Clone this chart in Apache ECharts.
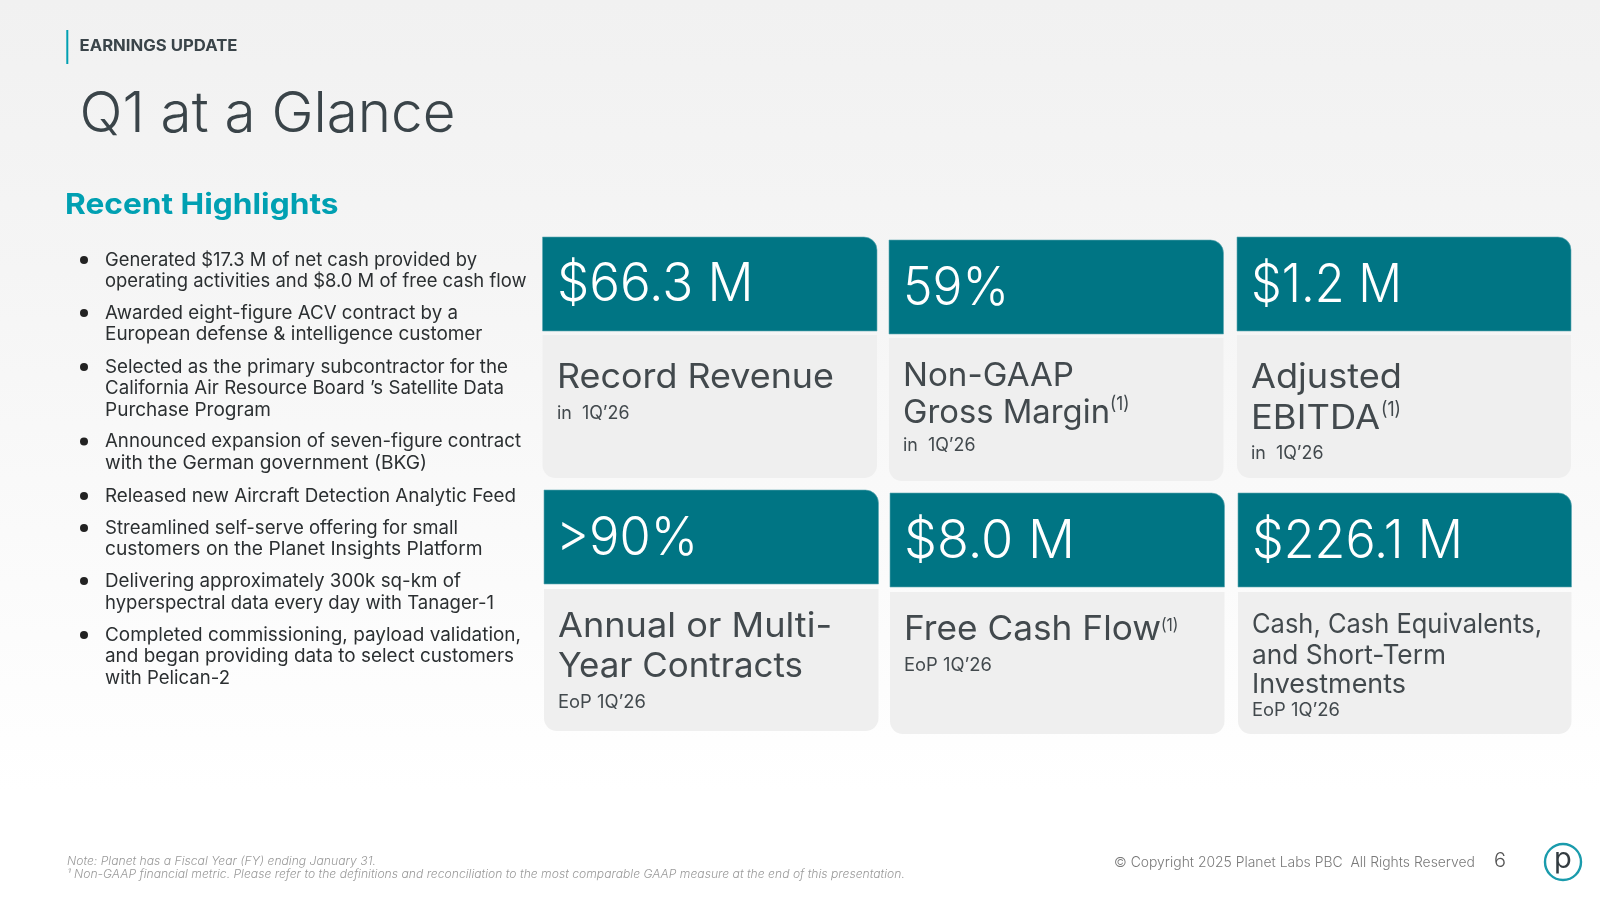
<!DOCTYPE html>
<html>
<head>
<meta charset="utf-8">
<title>Q1 at a Glance</title>
<style>
  html, body { margin: 0; padding: 0; background: #fff; }
  #main { width: 1600px; height: 900px; }
</style>
<script src="https://cdn.jsdelivr.net/npm/echarts@6/dist/echarts.min.js"></script>
</head>
<body>
<div id="main"></div>
<script>
const eyebrow = 'EARNINGS UPDATE'
const title = 'Q1 at a Glance'
const sectionTitle = 'Recent Highlights'

const highlights = [
  ['Generated $17.3 M of net cash provided by', 'operating activities and $8.0 M of free cash flow'],
  ['Awarded eight-figure ACV contract by a', 'European defense & intelligence customer'],
  ['Selected as the primary subcontractor for the', 'California Air Resource Board ’s Satellite Data', 'Purchase Program'],
  ['Announced expansion of seven-figure contract', 'with the German government (BKG)'],
  ['Released new Aircraft Detection Analytic Feed'],
  ['Streamlined self-serve offering for small', 'customers on the Planet Insights Platform'],
  ['Delivering approximately 300k sq-km of', 'hyperspectral data every day with Tanager-1'],
  ['Completed commissioning, payload validation,', 'and began providing data to select customers', 'with Pelican-2']
]

const cardValues = ['$66.3 M', '59%', '$1.2 M', '>90%', '$8.0 M', '$226.1 M']
const cardLabels = [
  ['Record Revenue'],
  ['Non-GAAP', 'Gross Margin'],
  ['Adjusted', 'EBITDA'],
  ['Annual or Multi-', 'Year Contracts'],
  ['Free Cash Flow'],
  ['Cash, Cash Equivalents,', 'and Short-Term', 'Investments']
]
const cardPeriods = ['in  1Q’26', 'in  1Q’26', 'in  1Q’26', 'EoP 1Q’26', 'EoP 1Q’26', 'EoP 1Q’26']
const cardNotes = ['', '(1)', '(1)', '', '(1)', '']

const footNotes = [
  'Note: Planet has a Fiscal Year (FY) ending January 31.',
  '¹ Non-GAAP financial metric. Please refer to the definitions and reconciliation to the most comparable GAAP measure at the end of this presentation.'
]
const copyright = '© Copyright 2025 Planet Labs PBC  All Rights Reserved'
const pageNumber = '6'

const TEAL = '#007584'
const ACCENT = '#00A0B2'
const INK = '#3A4449'
const FONT = 'Inter, "Noto Sans", sans-serif'

// card boxes: left, right, header top, header bottom, body top, body bottom
const cardBoxes = [
  [542.5, 877, 237, 331, 335, 478],
  [889, 1223.5, 240, 334, 338, 481],
  [1237, 1571, 237, 331, 335, 478],
  [544, 878.5, 490, 584, 589, 731],
  [890, 1224.5, 493, 587, 592, 734],
  [1238, 1571.5, 493, 587, 592, 734]
]
// text anchors per card (widths are what the Inter text is stretched to)
const cardText = [
  { x: 557, value: 285.5, vx: 557, vw: 196.5, labels: [378], size: 34, lw: [277], period: 413.5 },
  { x: 903, value: 289, vx: 903, vw: 106, labels: [376, 413], size: 33, lw: [171, 207], period: 445.5, note: [1110, 404], ns: 19 },
  { x: 1251, value: 286, vx: 1251, vw: 151, labels: [378, 418.5], size: 34, lw: [151, 129], period: 453.5, note: [1381, 410], ns: 19.5 },
  { x: 558, value: 539, vx: 556, vw: 142, labels: [627, 667], size: 34, lw: [274, 245], period: 702.5 },
  { x: 904, value: 542, vx: 904, vw: 171, labels: [630], size: 34, lw: [257], period: 665.5, note: [1161, 626], ns: 17 },
  { x: 1252, value: 542, vx: 1252, vw: 211, labels: [625, 655.5, 685], size: 27, lw: [290, 194, 154], period: 710.5 }
]
const highlightY = [[260, 281], [313, 334], [367, 388, 410], [441.5, 463], [496], [528, 549.5], [581, 603], [635, 656.5, 678]]
const highlightW = [[372, 421.5], [353, 377.5], [403, 399, 166], [416, 322], [411], [353, 377.5], [356, 389], [416, 409, 125]]

const ctx = document.createElement('canvas').getContext('2d')
const fit = (str, size, weight, width) => {
  ctx.font = `${weight} ${size}px ${FONT}`
  return width / ctx.measureText(str).width
}

const text = (x, y, str, size, fill, opts = {}) => ({
  type: 'text',
  silent: true,
  x: x,
  y: y,
  scaleX: opts.sx || 1,
  style: {
    text: str,
    fontFamily: FONT,
    fontSize: size,
    fontWeight: opts.weight || 400,
    fontStyle: opts.italic ? 'italic' : 'normal',
    fill: fill,
    align: 'left',
    verticalAlign: 'middle'
  }
})

const elements = []

// page background
elements.push({
  type: 'rect',
  silent: true,
  shape: { x: 0, y: 0, width: 1600, height: 900 },
  style: {
    fill: {
      type: 'linear', x: 0, y: 0, x2: 0, y2: 1,
      colorStops: [
        { offset: 0, color: '#F1F1F1' },
        { offset: 0.3, color: '#F5F5F5' },
        { offset: 0.88, color: '#FFFFFF' },
        { offset: 1, color: '#FFFFFF' }
      ]
    }
  }
})

// header
elements.push({
  type: 'rect',
  silent: true,
  shape: { x: 66.3, y: 30, width: 2, height: 34 },
  style: { fill: ACCENT }
})
elements.push(text(79.5, 46, eyebrow, 15.5, INK, { weight: 700, sx: fit(eyebrow, 15.5, 700, 158) }))
elements.push(text(79.5, 115, title, 56, INK, { weight: 300, sx: fit(title, 56, 300, 376) }))
elements.push(text(65, 205.5, sectionTitle, 29, ACCENT, { weight: 700, sx: fit(sectionTitle, 29, 700, 273.5) }))

// highlights list
highlights.forEach((lines, i) => {
  elements.push({
    type: 'circle',
    silent: true,
    shape: { cx: 84, cy: highlightY[i][0], r: 4 },
    style: { fill: '#222' }
  })
  lines.forEach((line, j) => {
    const sx = fit(line, 18.5, 400, highlightW[i][j])
    elements.push(text(105, highlightY[i][j], line, 18.5, '#2B2F31', { sx: sx }))
  })
})

// KPI cards
cardValues.forEach((value, i) => {
  const [left, right, headTop, headBottom, bodyTop, bodyBottom] = cardBoxes[i]
  const t = cardText[i]
  elements.push({
    type: 'rect',
    silent: true,
    shape: { x: left, y: bodyTop, width: right - left, height: bodyBottom - bodyTop, r: [0, 0, 13, 13] },
    style: { fill: '#EFEFEF' }
  })
  elements.push({
    type: 'rect',
    silent: true,
    shape: { x: left, y: headTop, width: right - left, height: headBottom - headTop, r: [0, 13, 0, 0] },
    style: { fill: TEAL, stroke: '#5FA9B4', lineWidth: 0.6 }
  })
  elements.push(text(t.vx, t.value, value, 53, '#FFFFFF', { weight: 300, sx: fit(value, 53, 300, t.vw) }))

  cardLabels[i].forEach((line, j) => {
    const sx = fit(line, t.size, 400, t.lw[j])
    elements.push(text(t.x, t.labels[j], line, t.size, '#42494D', { sx: sx }))
  })
  if (t.note) {
    elements.push(text(t.note[0], t.note[1], cardNotes[i], t.ns, '#42494D', { sx: 0.9 }))
  }
  const periodW = i < 3 ? 72.5 : 88
  elements.push(text(t.x, t.period, cardPeriods[i], 18, '#42494D', { sx: fit(cardPeriods[i], 18, 400, periodW) }))
})

// footer
const noteSx = fit(footNotes[1], 11.5, 300, 834)
footNotes.forEach((line, i) => {
  elements.push(text(67, 862 + i * 13, line, 11.5, '#9A9A9A', { italic: true, weight: 300, sx: noteSx }))
})
elements.push(text(1114, 863, copyright, 14, '#7A7A7A', { weight: 300, sx: fit(copyright, 14, 300, 361) }))
elements.push(text(1494, 861, pageNumber, 20, '#555', { weight: 300 }))
elements.push({
  type: 'circle',
  silent: true,
  shape: { cx: 1563, cy: 862, r: 18 },
  style: { fill: 'transparent', stroke: '#1A9BAC', lineWidth: 2.4 }
})
elements.push(text(1554, 859, 'p', 29, '#333C41', { weight: 400 }))

const chart = echarts.init(document.getElementById('main'), null, { width: 1600, height: 900 })
chart.setOption({
  animation: false,
  backgroundColor: '#fff',
  graphic: { elements: elements }
})
</script>
</body>
</html>
